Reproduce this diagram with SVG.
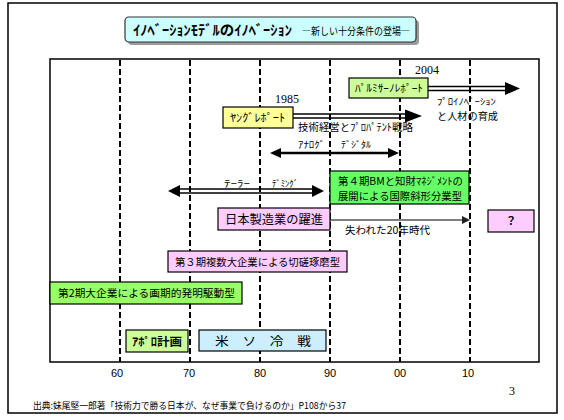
<svg xmlns="http://www.w3.org/2000/svg" width="564" height="420" viewBox="0 0 564 420">
<style>
.jp{font-family:"Noto Sans CJK JP","Noto Sans",sans-serif;fill:#000}
.box{stroke:#000;stroke-width:1.2}
.dash{stroke:#000;stroke-width:2;stroke-dasharray:6 3}
.ln{stroke:#000;stroke-width:1.5;fill:none}
.ax{font-family:"Liberation Sans",Arial,sans-serif;font-size:11px;fill:#000;text-anchor:middle}
.sf{font-family:"Liberation Serif","Times New Roman",serif;font-size:12px;fill:#000}
</style>
<rect width="564" height="420" fill="#fff"/>
<rect x="8" y="3" width="549" height="410" fill="none" stroke="#000" stroke-width="1.5"/>
<rect x="50" y="59" width="489" height="303" fill="none" stroke="#000" stroke-width="1.5"/>
<g id="grid">
<line class="dash" x1="120" y1="60" x2="120" y2="362"/>
<line class="dash" x1="190" y1="60" x2="190" y2="362"/>
<line class="dash" x1="260" y1="60" x2="260" y2="362"/>
<line class="dash" x1="330" y1="60" x2="330" y2="362"/>
<line class="dash" x1="400" y1="60" x2="400" y2="362"/>
<line class="dash" x1="470" y1="60" x2="470" y2="362"/>
</g>
<g id="axis">
<text class="ax" x="117" y="377">60</text>
<text class="ax" x="189" y="377">70</text>
<text class="ax" x="260" y="377">80</text>
<text class="ax" x="330" y="377">90</text>
<text class="ax" x="400" y="377">00</text>
<text class="ax" x="468" y="377">10</text>
<text class="sf" x="509" y="395" font-size="11">3</text>
</g>
<g id="title">
<rect x="128" y="20" width="291" height="25" rx="4" fill="#9a9a9a"/>
<rect x="125" y="17" width="291" height="25" rx="4" fill="#ccffff" stroke="#333" stroke-width="1.2"/>
<text class="jp" x="133" y="35" font-size="14" font-weight="bold" textLength="159" lengthAdjust="spacingAndGlyphs">ｲﾉﾍﾞｰｼｮﾝﾓﾃﾞﾙのｲﾉﾍﾞｰｼｮﾝ</text>
<text class="jp" x="302" y="35" font-size="10" textLength="108" lengthAdjust="spacingAndGlyphs">―新しい十分条件の登場―</text>
</g>
<g id="connectors">
<line class="ln" x1="428" y1="86.5" x2="507" y2="86.5"/>
<line class="ln" x1="428" y1="90.5" x2="507" y2="90.5"/>
<polygon points="505,82 520,88.5 505,95" fill="#000"/>
<line class="ln" x1="293" y1="114" x2="407" y2="114"/>
<line class="ln" x1="293" y1="118" x2="407" y2="118"/>
<polygon points="405,109.5 422,116 405,122.5" fill="#000"/>
<line x1="278" y1="153" x2="391" y2="153" stroke="#000" stroke-width="2.5"/>
<polygon points="270,153 281,148 281,158" fill="#000"/>
<polygon points="399,153 388,148 388,158" fill="#000"/>
<line class="ln" x1="176" y1="189" x2="316" y2="189"/>
<line class="ln" x1="176" y1="193" x2="316" y2="193"/>
<polygon points="168,191 180,185 180,197" fill="#000"/>
<polygon points="324,191 312,185 312,197" fill="#000"/>
<line x1="330" y1="220" x2="464" y2="220" stroke="#555" stroke-width="1.5"/>
<polygon points="470,220 462,216 462,224" fill="#222"/>
</g>
<g id="labels">
<text class="sf" x="415" y="74">2004</text>
<text class="sf" x="275" y="103">1985</text>
<text class="jp" x="437" y="105" font-size="9" textLength="59" lengthAdjust="spacingAndGlyphs">ﾌﾟﾛｲﾉﾍﾞｰｼｮﾝ</text>
<text class="jp" x="437" y="119.5" font-size="10" textLength="61" lengthAdjust="spacingAndGlyphs">と人材の育成</text>
<text class="jp" x="298" y="131" font-size="10.5" textLength="115" lengthAdjust="spacingAndGlyphs">技術経営とﾌﾟﾛﾊﾟﾃﾝﾄ戦略</text>
<text class="jp" x="298" y="148" font-size="9" textLength="27" lengthAdjust="spacingAndGlyphs">ｱﾅﾛｸﾞ</text>
<text class="jp" x="341" y="148" font-size="9" textLength="30" lengthAdjust="spacingAndGlyphs">ﾃﾞｼﾞﾀﾙ</text>
<text class="jp" x="224" y="187" font-size="9" textLength="26" lengthAdjust="spacingAndGlyphs">ﾃｰﾗｰ</text>
<text class="jp" x="272" y="187" font-size="9" textLength="26" lengthAdjust="spacingAndGlyphs">ﾃﾞﾐﾝｸﾞ</text>
<text class="jp" x="345" y="234" font-size="10.5" textLength="85" lengthAdjust="spacingAndGlyphs">失われた20年時代</text>
</g>
<g id="palmisano">
<rect class="box" x="349" y="78" width="79" height="20" fill="#ccff99"/>
<text class="jp" x="355" y="92" font-size="10.5" textLength="68" lengthAdjust="spacingAndGlyphs">ﾊﾟﾙﾐｻｰﾉﾚﾎﾟｰﾄ</text>
</g>
<g id="young">
<rect class="box" x="223" y="107" width="70" height="21" fill="#ffff99"/>
<text class="jp" x="230" y="122" font-size="11" textLength="55" lengthAdjust="spacingAndGlyphs">ﾔﾝｸﾞﾚﾎﾟｰﾄ</text>
</g>
<g id="phase4">
<rect class="box" x="330" y="171" width="139" height="33" fill="#66ff66"/>
<text class="jp" x="338" y="185" font-size="10.5" textLength="125" lengthAdjust="spacingAndGlyphs">第４期BMと知財ﾏﾈｼﾞﾒﾝﾄの</text>
<text class="jp" x="338" y="200" font-size="10.5" textLength="124" lengthAdjust="spacingAndGlyphs">展開による国際斜形分業型</text>
</g>
<g id="japan">
<rect class="box" x="218" y="208" width="112" height="22" fill="#ffccff"/>
<text class="jp" x="225" y="224" font-size="12" textLength="98" lengthAdjust="spacingAndGlyphs">日本製造業の躍進</text>
</g>
<g id="question">
<rect class="box" x="488" y="210" width="46" height="22" fill="#ffccff"/>
<text class="jp" x="511" y="225" font-size="11" font-weight="bold" text-anchor="middle">？</text>
</g>
<g id="phase3">
<rect class="box" x="168" y="251" width="179" height="21" fill="#ffccff"/>
<text class="jp" x="175" y="266" font-size="10.3" textLength="165" lengthAdjust="spacingAndGlyphs">第３期複数大企業による切磋琢磨型</text>
</g>
<g id="phase2">
<rect class="box" x="50" y="282" width="192" height="22" fill="#99ff66"/>
<text class="jp" x="58" y="297" font-size="10.7" textLength="177" lengthAdjust="spacingAndGlyphs">第2期大企業による画期的発明駆動型</text>
</g>
<g id="apollo">
<rect class="box" x="126" y="330" width="62" height="22" fill="#ccff99"/>
<text class="jp" x="132" y="346" font-size="11.5" font-weight="bold" textLength="50" lengthAdjust="spacingAndGlyphs">ｱﾎﾟﾛ計画</text>
</g>
<g id="coldwar">
<rect class="box" x="199" y="330" width="127" height="21" fill="#cceeff"/>
<text class="jp" x="215" y="346" font-size="12" textLength="96" lengthAdjust="spacingAndGlyphs">米　ソ　冷　戦</text>
</g>
<text class="jp" x="33" y="409" font-size="9" textLength="313" lengthAdjust="spacingAndGlyphs">出典:妹尾堅一郎著「技術力で勝る日本が、なぜ事業で負けるのか」P108から37</text>
</svg>
